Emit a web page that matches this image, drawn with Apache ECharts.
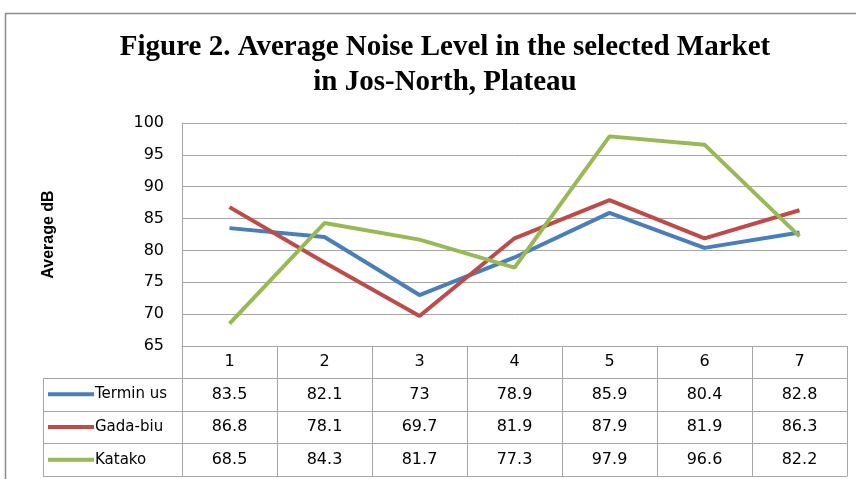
<!DOCTYPE html>
<html>
<head>
<meta charset="utf-8">
<script src="https://cdn.jsdelivr.net/npm/echarts@6/dist/echarts.min.js"></script>
<style>
  html, body { margin: 0; padding: 0; background: #fff; }
  #chart { width: 856px; height: 479px; }
</style>
</head>
<body>
<div id="chart"></div>
<script>
// data
const categories = ['1', '2', '3', '4', '5', '6', '7']
const terminus = [83.5, 82.1, 73, 78.9, 85.9, 80.4, 82.8]
const gadaBiu = [86.8, 78.1, 69.7, 81.9, 87.9, 81.9, 86.3]
const katako = [68.5, 84.3, 81.7, 77.3, 97.9, 96.6, 82.2]
const yTicks = [65, 70, 75, 80, 85, 90, 95, 100]

const seriesList = [
  { name: 'Terminus', label: 'Termin us', data: terminus, color: '#4a7ebb' },
  { name: 'Gada-biu', label: 'Gada-biu', data: gadaBiu, color: '#be4b48' },
  { name: 'Katako', label: 'Katako', data: katako, color: '#98b954' }
]

const gridColor = '#a6a6a6'
const tableFont = 'DejaVu Sans'

const chart = echarts.init(document.getElementById('chart'))

const option = {
  animation: false,
  backgroundColor: '#fff',
  title: {
    text: 'Figure 2. Average Noise Level in the selected Market\nin Jos-North, Plateau',
    left: 440,
    top: 25,
    textAlign: 'center',
    textStyle: {
      fontFamily: 'Liberation Serif',
      fontWeight: 'bold',
      fontSize: 29,
      lineHeight: 35,
      color: '#000'
    }
  },
  grid: { left: 182, right: 9, top: 123, bottom: 133 },
  xAxis: {
    type: 'category',
    data: categories,
    boundaryGap: true,
    axisLine: { show: true, lineStyle: { color: gridColor, width: 1 } },
    axisTick: { show: true, inside: false, length: 32, lineStyle: { color: gridColor } },
    axisLabel: { margin: 8, fontSize: 16, fontFamily: tableFont, color: '#000' },
    splitLine: { show: false }
  },
  yAxis: {
    type: 'value',
    min: yTicks[0],
    max: yTicks[yTicks.length - 1],
    interval: 5,
    name: 'Average dB',
    nameLocation: 'middle',
    nameGap: 125,
    nameRotate: 90,
    nameTextStyle: { fontFamily: 'Liberation Sans', fontWeight: 'bold', fontSize: 16, color: '#000' },
    axisLine: { show: true, lineStyle: { color: gridColor } },
    axisTick: { show: false },
    axisLabel: { margin: 18, fontSize: 16, fontFamily: tableFont, color: '#000' },
    splitLine: { show: true, lineStyle: { color: gridColor, width: 1 } }
  },
  series: seriesList.map(s => ({
    name: s.name,
    type: 'line',
    data: s.data,
    showSymbol: false,
    symbol: 'none',
    lineStyle: { color: s.color, width: 4 },
    itemStyle: { color: s.color }
  }))
}

chart.setOption(option)

// data table under the axis, placed from the category scale
function buildTable() {
  const c0 = chart.convertToPixel({ xAxisIndex: 0 }, 0)
  const c1 = chart.convertToPixel({ xAxisIndex: 0 }, 1)
  const band = c1 - c0
  const axisY = chart.convertToPixel({ yAxisIndex: 0 }, yTicks[0])
  const tableTop = axisY + 32
  const rowH = 32.7
  const leftX = c0 - band / 2
  const rightX = chart.convertToPixel({ xAxisIndex: 0 }, categories.length - 1) + band / 2
  const legendX = 43
  const lineStyle = { stroke: gridColor, lineWidth: 1 }
  const els = []

  // outer frame of the chart area
  els.push({ type: 'rect', shape: { x: 5.5, y: 13.5, width: 900, height: 500 },
    style: { fill: 'none', stroke: '#8c8c8c', lineWidth: 1.5 }, silent: true })

  // horizontal rules
  for (let r = 0; r <= seriesList.length; r++) {
    const y = Math.round(tableTop + r * rowH) + 0.5
    els.push({ type: 'line', shape: { x1: legendX, y1: y, x2: rightX, y2: y }, style: lineStyle })
  }
  const bottom = Math.round(tableTop + seriesList.length * rowH) + 0.5
  // vertical rules
  els.push({ type: 'line', shape: { x1: legendX + 0.5, y1: tableTop, x2: legendX + 0.5, y2: bottom }, style: lineStyle })
  for (let i = 0; i <= categories.length; i++) {
    const x = Math.round(leftX + i * band) + 0.5
    els.push({ type: 'line', shape: { x1: x, y1: tableTop, x2: x, y2: bottom }, style: lineStyle })
  }

  seriesList.forEach((s, r) => {
    const cy = tableTop + r * rowH + rowH / 2
    els.push({ type: 'line', shape: { x1: 48, y1: cy, x2: 94, y2: cy },
      style: { stroke: s.color, lineWidth: 4 } })
    els.push({ type: 'text', x: 95, y: cy,
      style: { text: s.label, fontFamily: tableFont, fontSize: 15, fill: '#000', textVerticalAlign: 'middle' } })
    s.data.forEach((v, i) => {
      const cx = chart.convertToPixel({ xAxisIndex: 0 }, i)
      els.push({ type: 'text', x: cx, y: cy,
        style: { text: String(v), fontFamily: tableFont, fontSize: 16, fill: '#000',
          textAlign: 'center', textVerticalAlign: 'middle' } })
    })
  })

  chart.setOption({ graphic: els })
}

buildTable()
</script>
</body>
</html>
